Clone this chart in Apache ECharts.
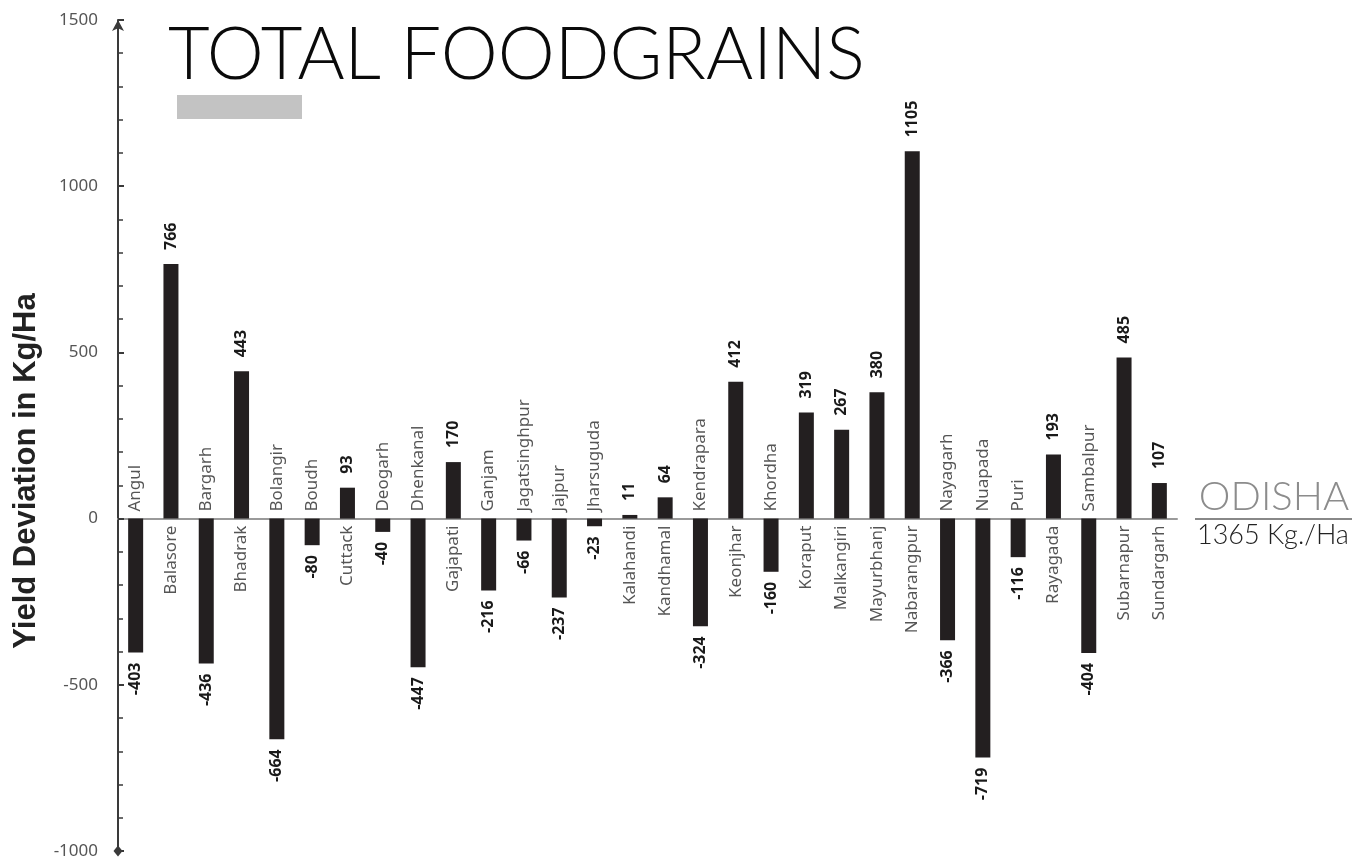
<!DOCTYPE html>
<html>
<head>
<meta charset="utf-8">
<script src="https://cdn.jsdelivr.net/npm/echarts@6/dist/echarts.min.js"></script>
<style>html,body{margin:0;padding:0;background:#fff}#c{width:1367px;height:863px}</style>
</head>
<body>
<div id="c"></div>
<script>
const districts = ["Angul","Balasore","Bargarh","Bhadrak","Bolangir","Boudh","Cuttack","Deogarh","Dhenkanal","Gajapati","Ganjam","Jagatsinghpur","Jajpur","Jharsuguda","Kalahandi","Kandhamal","Kendrapara","Keonjhar","Khordha","Koraput","Malkangiri","Mayurbhanj","Nabarangpur","Nayagarh","Nuapada","Puri","Rayagada","Sambalpur","Subarnapur","Sundargarh"];
const deviation = [-403,766,-436,443,-664,-80,93,-40,-447,170,-216,-66,-237,-23,11,64,-324,412,-160,319,267,380,1105,-366,-719,-116,193,-404,485,107];
const yTicks = [-1000,-500,0,500,1000,1500];
const titleText = "TOTAL FOODGRAINS";
const yName = "Yield Deviation in Kg/Ha";
const stateName = "ODISHA";
const stateAvg = "1365 Kg./Ha";

const chart = echarts.init(document.getElementById('c'));
const font = "'Noto Sans', 'Open Sans', sans-serif";
const titleFont = "'Lato', 'Noto Sans', sans-serif";

chart.setOption({
  animation: false,
  backgroundColor: '#fff',
  grid: { left: 118, right: 190, top: 20, bottom: 12, containLabel: false },
  xAxis: {
    type: 'category',
    data: districts,
    axisLine: { onZero: true, lineStyle: { color: '#9a9a9a', width: 2 } },
    axisTick: { show: false },
    axisLabel: { show: false },
    splitLine: { show: false }
  },
  yAxis: {
    type: 'value',
    min: yTicks[0],
    max: yTicks[yTicks.length - 1],
    interval: 500,
    axisLine: { show: true, symbol: ['diamond', 'arrow'], symbolSize: [9, 11], lineStyle: { color: '#3a3a3a', width: 2 } },
    axisTick: { show: true, inside: true, length: 6, lineStyle: { color: '#3a3a3a', width: 2 } },
    minorTick: { show: true, splitNumber: 5, length: 5, lineStyle: { color: '#3a3a3a', width: 1.5 } },
    axisLabel: { color: '#555', fontSize: 17, fontFamily: font, margin: 20, formatter: v => String(v) },
    splitLine: { show: false }
  },
  series: [
    {
      type: 'bar',
      data: deviation.map(v => ({
        value: v,
        label: v >= 0
          ? { position: 'top', align: 'left', distance: 14 }
          : { position: 'bottom', align: 'right', distance: 10 }
      })),
      barWidth: 15,
      itemStyle: { color: '#231f20' },
      label: {
        show: true, rotate: 90, verticalAlign: 'middle',
        color: '#1a1a1a', fontWeight: 'bold', fontSize: 16, fontFamily: font
      },
      z: 3
    },
    {
      type: 'scatter',
      symbolSize: 0,
      silent: true,
      data: deviation.map((v, i) => ({
        value: [i, 0],
        label: v >= 0
          ? { position: 'bottom', align: 'right', formatter: districts[i] }
          : { position: 'top', align: 'left', formatter: districts[i] }
      })),
      label: {
        show: true, rotate: 90, verticalAlign: 'middle', distance: 7,
        color: '#2a2a2a', fontSize: 17, fontFamily: font
      },
      z: 4
    }
  ],
  graphic: [
    { type: 'text', left: 168, top: 20, style: { text: titleText, font: "300 72px " + titleFont, fill: '#0a0a0a' } },
    { type: 'rect', shape: { x: 177, y: 95, width: 125, height: 24 }, style: { fill: '#c3c3c3' } },
    { type: 'text', x: 26, y: 471, rotation: Math.PI / 2, style: { text: yName, font: "bold 31px 'Liberation Sans', Arial, sans-serif", fill: '#222', align: 'center', verticalAlign: 'middle' } },
    { type: 'text', x: 1274, y: 517, style: { text: stateName, font: "300 40px " + titleFont, fill: '#8c8c8c', align: 'center', verticalAlign: 'bottom' } },
    { type: 'line', shape: { x1: 1195, y1: 519, x2: 1352, y2: 519 }, style: { stroke: '#888', lineWidth: 2 } },
    { type: 'text', x: 1197, y: 522, style: { text: stateAvg, font: "300 27px " + titleFont, fill: '#222', align: 'left', verticalAlign: 'top' } }
  ]
});
</script>
</body>
</html>
